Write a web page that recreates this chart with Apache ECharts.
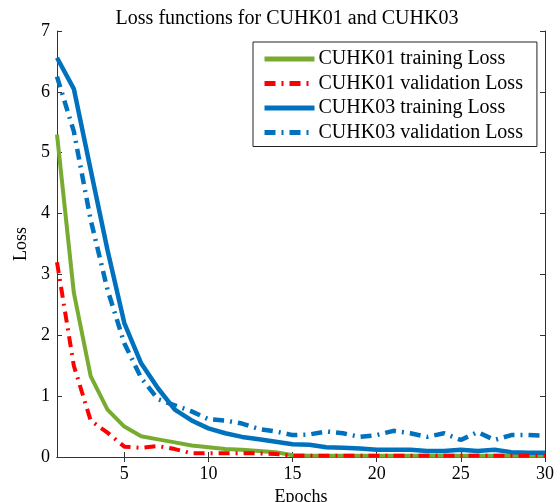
<!DOCTYPE html>
<html>
<head>
<meta charset="utf-8">
<script src="https://cdn.jsdelivr.net/npm/echarts@6/dist/echarts.min.js"></script>
<style>
html, body { margin: 0; padding: 0; background: #fff; }
#chart1 { width: 560px; height: 502px; }
</style>
</head>
<body>
<div id="chart1"></div>
<script>
// data
var epochs = [1, 2, 3, 4, 5, 6, 7, 8, 9, 10, 11, 12, 13, 14, 15, 16, 17, 18, 19, 20, 21, 22, 23, 24, 25, 26, 27, 28, 29, 30];
var cuhk01Train = [5.3, 2.7, 1.33, 0.78, 0.5, 0.34, 0.29, 0.24, 0.19, 0.16, 0.13, 0.12, 0.1, 0.08, 0.03, 0.02, 0.02, 0.02, 0.02, 0.02, 0.02, 0.02, 0.02, 0.02, 0.02, 0.02, 0.02, 0.02, 0.02, 0.02];
var cuhk01Val = [3.2, 1.5, 0.6, 0.4, 0.17, 0.15, 0.18, 0.13, 0.06, 0.06, 0.06, 0.06, 0.06, 0.05, 0.02, 0.02, 0.02, 0.02, 0.02, 0.02, 0.02, 0.02, 0.02, 0.02, 0.02, 0.02, 0.02, 0.02, 0.02, 0.02];
var cuhk03Train = [6.56, 6.05, 4.72, 3.4, 2.2, 1.54, 1.13, 0.78, 0.6, 0.47, 0.39, 0.33, 0.29, 0.25, 0.21, 0.2, 0.16, 0.15, 0.14, 0.12, 0.12, 0.12, 0.1, 0.1, 0.12, 0.1, 0.12, 0.08, 0.07, 0.07];
var cuhk03Val = [6.25, 5.35, 3.9, 2.75, 1.87, 1.3, 0.95, 0.85, 0.75, 0.62, 0.6, 0.55, 0.46, 0.42, 0.36, 0.37, 0.42, 0.39, 0.33, 0.36, 0.43, 0.39, 0.33, 0.39, 0.28, 0.41, 0.28, 0.36, 0.36, 0.35];
var xTicks = [5, 10, 15, 20, 25, 30];
var seriesNames = ['CUHK01 training Loss', 'CUHK01 validation Loss', 'CUHK03 training Loss', 'CUHK03 validation Loss'];

function pairs(vals) {
    return epochs.map(function (e, i) { return [e, vals[i]]; });
}

var chartDom = document.getElementById('chart1');
var myChart = echarts.init(chartDom);
var option;

var font = 'Liberation Serif';
var axisCol = '#333';
var dashDot = [11, 6, 2, 6];

option = {
    backgroundColor: '#fff',
    animation: false,
    title: {
        text: 'Loss functions for CUHK01 and CUHK03',
        left: 282,
        textAlign: 'center',
        top: 4,
        textStyle: {fontFamily: font, fontSize: 20, fontWeight: 'normal', color: '#000'}
    },
    grid: {left: 57, right: 15, top: 31, bottom: 45, outerBoundsMode: 'none', containLabel: false},
    legend: {
        orient: 'vertical',
        left: 253,
        top: 42,
        padding: [7, 14, 4, 9],
        itemWidth: 50,
        itemHeight: 14,
        itemGap: 4.5,
        backgroundColor: '#fff',
        borderColor: '#222',
        borderWidth: 1,
        itemStyle: {opacity: 0},
        lineStyle: {width: 5},
        textStyle: {fontFamily: font, fontSize: 20, color: '#000', padding: [0, 0, 0, -1]},
        data: seriesNames
    },
    xAxis: [
        {
            type: 'value', min: 1, max: 30,
            name: 'Epochs', nameLocation: 'middle', nameGap: 30,
            nameTextStyle: {fontFamily: font, fontSize: 18, color: '#000'},
            axisLine: {lineStyle: {color: axisCol}},
            axisTick: {inside: true, length: 5, customValues: xTicks, lineStyle: {color: axisCol}},
            axisLabel: {customValues: xTicks, fontFamily: font, fontSize: 18, color: '#000', margin: 8},
            splitLine: {show: false}
        },
        {
            type: 'value', min: 1, max: 30, position: 'top',
            axisLine: {lineStyle: {color: axisCol}},
            axisTick: {inside: true, length: 5, customValues: xTicks, lineStyle: {color: axisCol}},
            axisLabel: {show: false},
            splitLine: {show: false}
        }
    ],
    yAxis: [
        {
            type: 'value', min: 0, max: 7, interval: 1,
            name: 'Loss', nameLocation: 'middle', nameGap: 27,
            nameTextStyle: {fontFamily: font, fontSize: 18, color: '#000'},
            axisLine: {show: true, lineStyle: {color: axisCol}},
            axisTick: {show: true, inside: true, length: 5, lineStyle: {color: axisCol}},
            axisLabel: {fontFamily: font, fontSize: 18, color: '#000', margin: 7},
            splitLine: {show: false}
        },
        {
            type: 'value', min: 0, max: 7, interval: 1, position: 'right',
            axisLine: {show: true, lineStyle: {color: axisCol}},
            axisTick: {show: true, inside: true, length: 5, lineStyle: {color: axisCol}},
            axisLabel: {show: false},
            splitLine: {show: false}
        }
    ],
    series: [
        {
            name: seriesNames[0], type: 'line', symbol: 'none', z: 2,
            lineStyle: {color: '#77AC30', width: 4},
            itemStyle: {color: '#77AC30'},
            data: pairs(cuhk01Train)
        },
        {
            name: seriesNames[1], type: 'line', symbol: 'none', z: 3,
            lineStyle: {color: '#FF0000', width: 4, type: dashDot},
            itemStyle: {color: '#FF0000'},
            data: pairs(cuhk01Val)
        },
        {
            name: seriesNames[2], type: 'line', symbol: 'none', z: 2,
            lineStyle: {color: '#0072BD', width: 4.5},
            itemStyle: {color: '#0072BD'},
            data: pairs(cuhk03Train)
        },
        {
            name: seriesNames[3], type: 'line', symbol: 'none', z: 3,
            lineStyle: {color: '#0072BD', width: 4.5, type: dashDot},
            itemStyle: {color: '#0072BD'},
            data: pairs(cuhk03Val)
        }
    ]
};

option && myChart.setOption(option);
</script>
</body>
</html>
